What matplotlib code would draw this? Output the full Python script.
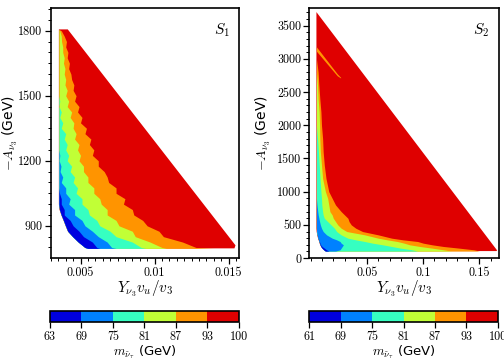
import numpy as np
import matplotlib
matplotlib.use('Agg')
import matplotlib.pyplot as plt
from matplotlib.colors import ListedColormap, BoundaryNorm
from matplotlib.cm import ScalarMappable
from matplotlib.ticker import MultipleLocator

plt.rcParams['mathtext.fontset'] = 'cm'
plt.rcParams['font.family'] = 'DejaVu Sans'

# ---------------- Panel S1 (band boundaries, x at each y) ----------------
y1 = [796, 800] + list(range(825, 1801, 25)) + [1806]
left1 = [.0055, .0053, .00485, .00447, .00414, .00399, .00385, .0037, .00358] + [.00354] * 34
b1_1 = [.0063, .0061, .0058, .0052, .0049, .0045, .0043, .0039, .0039, .0037, .0037, .00358] + [.00354] * 31
b2_1 = [.0074, .0071, .0068, .0062, .0058, .0053, .0051, .0046, .0046, .0042, .0043, .0040, .0040, .0037,
        .0038, .00362, .00368, .00356, .0036] + [.00354] * 24
b3_1 = [.0094, .0091, .0085, .0074, .0070, .0063, .0061, .0056, .0055, .0051, .0051, .0047, .0048, .0045,
        .0046, .0043, .0044, .0041, .0042, .0040, .0041, .0039, .0040, .0037, .0038, .0036, .0037, .00355,
        .0036] + [.00354] * 14
b4_1 = [.0108, .0105, .0097, .0087, .0085, .0076, .0074, .0068, .0068, .0064, .0063, .0059, .0059, .0055,
        .0055, .0052, .0052, .0049, .0050, .0048, .0049, .0046, .0047, .0045, .00455, .0043, .0044, .0041,
        .0042, .0040, .0041, .00395, .0040, .0039, .00395, .00385, .0039, .0038, .0038, .00372, .0037,
        .0036, .00354]
b5_1 = [.0140, .0128, .0119, .0106, .0103, .0095, .0092, .0086, .0085, .0079, .0080, .0074, .0074, .0069,
        .0068, .0066, .0062, .0062, .0058, .0059, .0056, .0057, .0053, .0054, .0050, .0051, .0048, .0049,
        .0046, .0047, .0045, .00455, .0044, .00435, .0042, .00425, .0041, .00415, .0040, .00405, .0039,
        .0037, .00354]
hyp1_x = [0.00414, 0.01547, 0.0154]
hyp1_y = [1806, 810, 796]

# ---------------- Panel S2 ----------------
y2 = [106, 125, 150, 175, 200, 225, 250, 275, 300, 350, 400, 450, 500, 550, 600, 650, 700, 800, 900, 1000,
      1200, 1400, 1600, 1800, 2000, 2200, 2400, 2600, 2800, 3000, 3200, 3400, 3706]
left2 = [.0130, .0115, .0100, .0090, .0083, .0078, .0074, .0069, .0064, .0057, .0052] + [.0050] * 22
b1_2 = [.016, .014, .012, .010, .0088, .0082, .0076, .0071, .0066, .0058, .0052] + [.0050] * 22
b2_2 = [.022, .026, .027, .028, .029, .027, .026, .023, .019, .014, .011, .0095, .0085, .0078, .0072,
        .0066, .0062, .0055] + [.0050] * 15
b3_2 = [.095, .090, .080, .072, .064, .055, .048, .040, .033, .027, .023, .021, .018, .015, .012, .011,
        .0105, .0098, .0095, .0090, .0082, .0075, .0068, .0060] + [.0050] * 9
b4_2 = [.125, .118, .108, .097, .088, .083, .077, .068, .060, .048, .032, .027, .024, .022, .020, .019,
        .017, .016, .015, .013, .0105, .0095, .0085, .0080, .0078, .0074, .0065, .0060] + [.0050] * 5
b5_2 = [.150, .145, .132, .118, .108, .100, .095, .082, .072, .060, .046, .040, .036, .034, .033, .030,
        .027, .022, .019, .016, .0135, .0120, .0110, .0105, .0095, .0090, .0080, .0072, .0065] + [.0050] * 4
hyp2_x = [0.0049, 0.1657, 0.1650]
hyp2_y = [3706, 116, 106]
stripe_x = [0.0050, 0.0235, 0.0265]
stripe_top = [3180, 2775, 2722]
stripe_bot = [3115, 2745, 2712]

levels1 = [63, 69, 75, 81, 87, 93, 100]
levels2 = [61, 69, 75, 81, 87, 93, 100]

colors = [plt.cm.jet((i + 0.5) / 6) for i in range(6)]
cmap = ListedColormap(colors)

fig = plt.figure(figsize=(5.04, 3.61), dpi=100)
ax1 = fig.add_axes([0.101, 0.285, 0.373, 0.693])
ax2 = fig.add_axes([0.614, 0.285, 0.3755, 0.693])
cax1 = fig.add_axes([0.0992, 0.107, 0.375, 0.032])
cax2 = fig.add_axes([0.6137, 0.107, 0.374, 0.032])


def draw_panel(ax, y, left, bounds, hx, hy):
    poly_x = list(hx) + list(left)
    poly_y = list(hy) + list(y)
    ax.fill(poly_x, poly_y, color=colors[5], lw=0)
    for k in range(4, -1, -1):
        ax.fill_betweenx(y, left, bounds[k], color=colors[k], lw=0)


draw_panel(ax1, y1, left1, [b1_1, b2_1, b3_1, b4_1, b5_1], hyp1_x, hyp1_y)
draw_panel(ax2, y2, left2, [b1_2, b2_2, b3_2, b4_2, b5_2], hyp2_x, hyp2_y)
ax2.fill_between(stripe_x, stripe_bot, stripe_top, color=colors[4], lw=0)

ax1.set_xlim(0.003, 0.0157)
ax1.set_ylim(751, 1905)
ax2.set_xlim(-0.0012, 0.1671)
ax2.set_ylim(0, 3766)

tfont = dict(fontfamily='cmr10', fontsize=8.7)
ax1.set_xticks([0.005, 0.01, 0.015], labels=['0.005', '0.01', '0.015'], **tfont)
ax1.set_yticks([900, 1200, 1500, 1800], labels=['900', '1200', '1500', '1800'], **tfont)
ax2.set_xticks([0.05, 0.1, 0.15], labels=['0.05', '0.1', '0.15'], **tfont)
yt2 = [0, 500, 1000, 1500, 2000, 2500, 3000, 3500]
ax2.set_yticks(yt2, labels=[str(v) for v in yt2], **tfont)
ax1.xaxis.set_minor_locator(MultipleLocator(0.0005))
ax1.yaxis.set_minor_locator(MultipleLocator(50))
ax2.xaxis.set_minor_locator(MultipleLocator(0.01))
ax2.yaxis.set_minor_locator(MultipleLocator(100))

for ax, lab, ylx in [(ax1, '$S_1$', -0.163), (ax2, '$S_2$', -0.19)]:
    ax.tick_params(which='major', direction='out', length=4, width=0.9, pad=2)
    ax.tick_params(which='minor', direction='out', length=2, width=0.7)
    for s in ax.spines.values():
        s.set_linewidth(1.2)
    ax.set_xlabel(r'$Y_{\nu_3}v_u/v_3$', fontsize=11)
    ax.set_ylabel(r'$-A_{\nu_3}$ (GeV)', fontsize=10)
    ax.xaxis.set_label_coords(0.5, -0.08)
    ax.yaxis.set_label_coords(ylx, 0.5)
    ax.text(0.95, 0.91, lab, transform=ax.transAxes, ha='right', va='center', fontsize=11)

for cax, lev in [(cax1, levels1), (cax2, levels2)]:
    norm = BoundaryNorm(lev, cmap.N)
    sm = ScalarMappable(norm=norm, cmap=cmap)
    cb = fig.colorbar(sm, cax=cax, orientation='horizontal', ticks=lev, spacing='uniform')
    cb.ax.set_xticks(lev, labels=[str(v) for v in lev], **tfont)
    cb.ax.tick_params(direction='out', length=4, width=0.9, pad=2)
    cb.outline.set_linewidth(1.2)
    cb.set_label(r'$m_{\tilde{\nu}_\tau}$ (GeV)', fontsize=9.5, labelpad=0)

fig.savefig('out.png', dpi=100)
